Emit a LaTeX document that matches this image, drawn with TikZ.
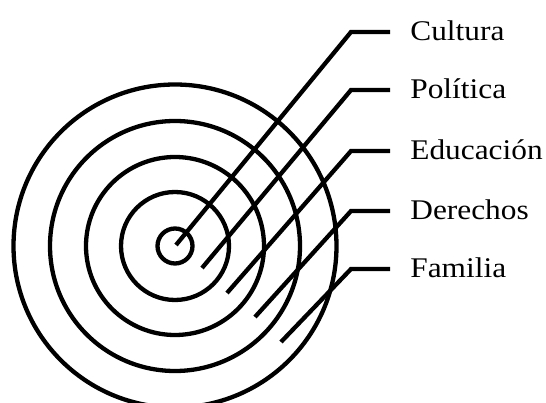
\documentclass[tikz,border=0pt]{standalone}
\usepackage{fontspec}
\setmainfont{Liberation Serif}
\usepackage{tikz}

\begin{document}
\begin{tikzpicture}[x=1pt, y=-1pt, line width=4.3pt,
    lbl/.style={anchor=west, inner sep=0pt, text height=18pt, text depth=0pt,
                xscale=1.1, transform shape, font=\fontsize{28.5}{34}\selectfont}]
    \clip (0,0) rectangle (546,403);
    \coordinate (c) at (175,246);
    % rings
    \draw (c) circle[radius=17.5pt];
    \draw (c) circle[radius=54pt];
    \draw (c) circle[radius=89pt];
    \draw (c) circle[radius=125pt];
    \draw (c) circle[radius=161.5pt];
    % labels
    \node[lbl] (cultura)   at (408,31.5)  {Cultura};
    \node[lbl] (politica)  at (408,89.5)  {Política};
    \node[lbl] (educacion) at (408,150.5) {Educación};
    \node[lbl] (derechos)  at (408,210.5) {Derechos};
    \node[lbl] (familia)   at (408,268.5) {Familia};
    % leader lines
    \coordinate (cul) at (351,32);
    \coordinate (pol) at (351,90);
    \coordinate (edu) at (351,151);
    \coordinate (der) at (351,211);
    \coordinate (fam) at (351,269);
    \coordinate (polend) at (202,268);
    \coordinate (eduend) at (227,293);
    \coordinate (derend) at (255,317);
    \coordinate (famend) at (281,342);
    \draw ([shift={(1,-1)}]c) -- (cul) -- ([xshift=-18pt]cul -| cultura.west);
    \draw (polend) -- (pol) -- ([xshift=-18pt]pol -| politica.west);
    \draw (eduend) -- (edu) -- ([xshift=-18pt]edu -| educacion.west);
    \draw (derend) -- (der) -- ([xshift=-18pt]der -| derechos.west);
    \draw (famend) -- (fam) -- ([xshift=-18pt]fam -| familia.west);
\end{tikzpicture}
\end{document}
